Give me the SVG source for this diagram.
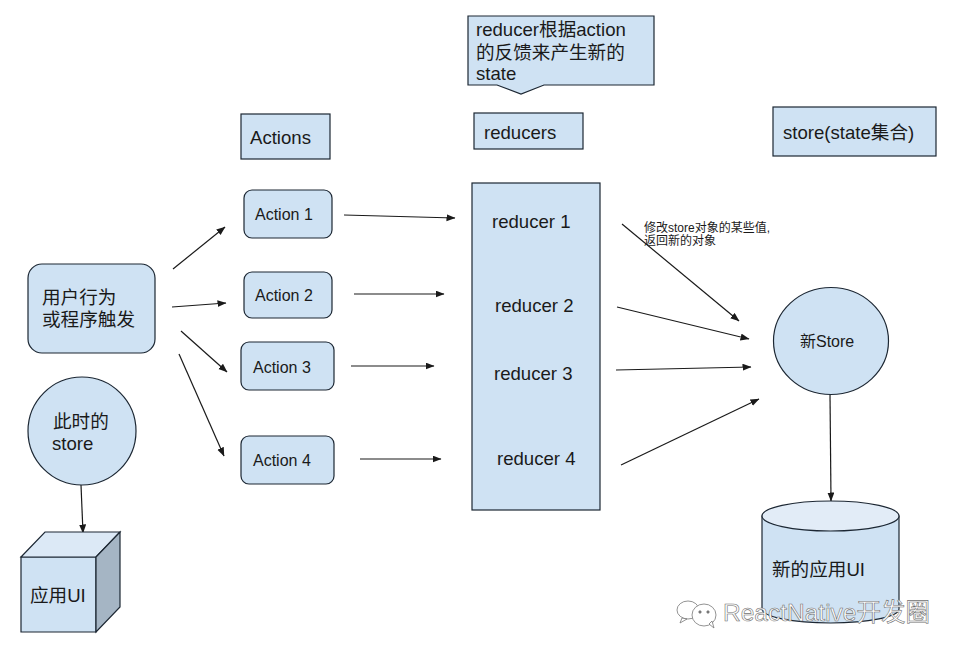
<svg xmlns="http://www.w3.org/2000/svg" width="962" height="655" viewBox="0 0 962 655">
<style>
text{font-family:"Liberation Sans","Noto Sans CJK SC",sans-serif;fill:#1a1a1a;font-size:16px}
.s{fill:#cfe2f3;stroke:#1c2733;stroke-width:1.2}
.c{fill:none;stroke:#1a1a1a;stroke-width:1.2;marker-end:url(#a)}
.t{font-size:18.600px}
.m{font-size:16px}
.h{font-size:12px}
.w{font-size:24.500px;fill:#fff;stroke:#6f6f6f;stroke-width:.6}
</style>
<defs><marker id="a" markerUnits="userSpaceOnUse" markerWidth="9" markerHeight="8" refX="8.500" refY="3.500" orient="auto"><path d="M0 0L9 3.500L0 7Z" fill="#1a1a1a"/></marker></defs>
<rect width="962" height="655" fill="#fff"/>
<g id="connectors">
<path class="c" d="M173 269L225 227"/>
<path class="c" d="M172 307L226 303"/>
<path class="c" d="M181 331L227 372"/>
<path class="c" d="M179 354L224 456"/>
<path class="c" d="M344 215L455 218"/>
<path class="c" d="M354 294L444 294"/>
<path class="c" d="M351 366L434 366"/>
<path class="c" d="M360 459L441 459"/>
<path class="c" d="M622 224L739 321"/>
<path class="c" d="M617 307L749 339"/>
<path class="c" d="M616 370L751 367"/>
<path class="c" d="M621 465L759 399"/>
<path class="c" d="M830 394L831 501"/>
<path class="c" d="M81 485L83 533"/>
</g>
<g id="note"><path class="s" d="M468 16H654V85H544L521 94L497 85H468Z"/><text class="t" x="476" y="36">reducer根据action</text><text class="t" x="476" y="59">的反馈来产生新的</text><text class="t" x="476" y="80">state</text></g>
<g id="actions-title"><rect class="s" x="241" y="114" width="89" height="45"/><text class="t" x="250" y="144">Actions</text></g>
<g id="reducers-title"><rect class="s" x="474" y="113" width="109" height="36"/><text class="t" x="484" y="139">reducers</text></g>
<g id="store-title"><rect class="s" x="773" y="107" width="163" height="49"/><text class="t" x="783" y="139">store(state集合)</text></g>
<g id="user"><rect class="s" x="28" y="264" width="127" height="89" rx="14"/><text class="t" x="42" y="304">用户行为</text><text class="t" x="42" y="326">或程序触发</text></g>
<g id="action1"><rect class="s" x="244" y="190" width="88" height="48" rx="8"/><text class="m" x="255" y="220">Action 1</text></g>
<g id="action2"><rect class="s" x="244" y="272" width="88" height="46" rx="8"/><text class="m" x="255" y="301">Action 2</text></g>
<g id="action3"><rect class="s" x="241" y="342" width="93" height="48" rx="8"/><text class="m" x="253" y="373">Action 3</text></g>
<g id="action4"><rect class="s" x="241" y="436" width="93" height="48" rx="8"/><text class="m" x="253" y="466">Action 4</text></g>
<g id="reducers"><rect class="s" x="472" y="183" width="128" height="327"/><text class="t" x="492" y="228">reducer 1</text><text class="t" x="495" y="312">reducer 2</text><text class="t" x="494" y="380">reducer 3</text><text class="t" x="497" y="465">reducer 4</text></g>
<g id="newstore"><ellipse class="s" cx="831" cy="341" rx="57.500" ry="53.500"/><text class="m" x="800" y="347">新Store</text></g>
<g id="store-now"><circle class="s" cx="82" cy="431" r="54"/><text class="t" x="53" y="428">此时的</text><text class="t" x="52" y="450">store</text></g>
<g id="app"><path class="s" d="M21 557H96V632H21Z"/><path d="M21 557L45 532H120L96 557Z" fill="#dce9f6" stroke="#1c2733" stroke-width="1.2"/><path d="M96 557L120 532V607L96 632Z" fill="#a5b5c4" stroke="#1c2733" stroke-width="1.2"/><text class="t" x="30" y="602">应用UI</text></g>
<g id="newapp"><path class="s" d="M762 516V609A68.500 14 0 0 0 899 609V516Z"/><ellipse cx="830.500" cy="516" rx="68.500" ry="15" fill="#e2ecf7" stroke="#1c2733" stroke-width="1.2"/><text class="t" x="772" y="576">新的应用UI</text></g>
<g id="hint"><text class="h" x="644" y="232">修改store对象的某些值,</text><text class="h" x="644" y="245">返回新的对象</text></g>
<g id="watermark" fill="#fff" stroke="#777" stroke-width="0.8"><ellipse cx="688" cy="610" rx="11" ry="9"/><path d="M682 618L680 623L687 619Z"/><ellipse cx="704" cy="615" rx="12" ry="11"/><path d="M709 624L714 628L712 621Z"/><circle cx="700" cy="612" r="1.200" fill="#777"/><circle cx="708" cy="612" r="1.200" fill="#777"/><text class="w" x="723" y="621">ReactNative开发圈</text></g>
</svg>
